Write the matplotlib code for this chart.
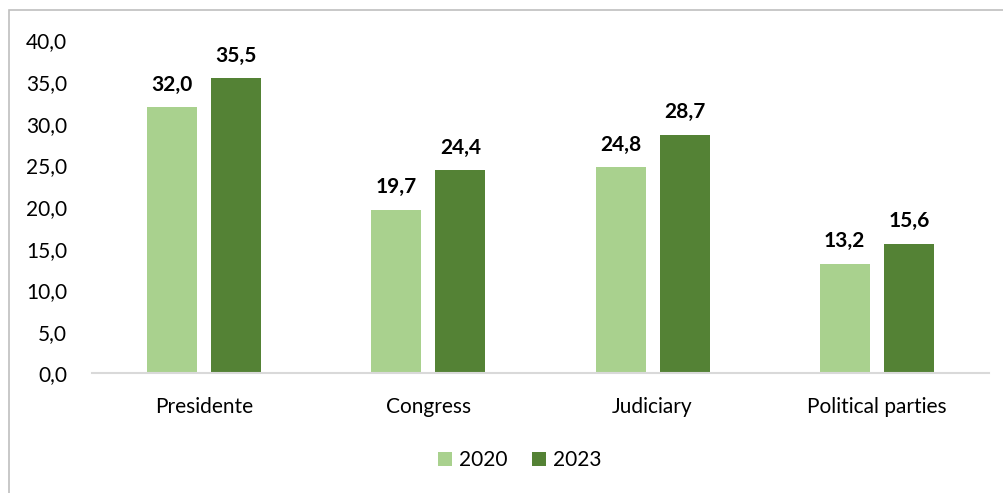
import matplotlib.pyplot as plt
import numpy as np
from matplotlib.patches import Rectangle

categories = ["Presidente", "Congress", "Judiciary", "Political parties"]
years = ["2020", "2023"]
values_2020 = [32.0, 19.7, 24.8, 13.2]
values_2023 = [35.5, 24.4, 28.7, 15.6]
yticks = [0, 5, 10, 15, 20, 25, 30, 35, 40]

colors = ["#A9D18E", "#548235"]

plt.rcParams["font.family"] = ["Lato", "DejaVu Sans"]

fig = plt.figure(figsize=(10.04, 4.93), dpi=100)
ax = fig.add_axes([0.0916, 0.2424, 0.8934, 0.6754])

# thin frame along the top and left edges
fig.patches.append(Rectangle((9 / 1004, -0.1), 1.2, (493 - 9) / 493 + 0.1 - 0.002,
                             transform=fig.transFigure, fill=False,
                             edgecolor="#BFBFBF", linewidth=1.2))

x = np.arange(len(categories))
width = 0.223
offset = 0.143

for vals, year, color, sign in [(values_2020, years[0], colors[0], -1),
                                (values_2023, years[1], colors[1], 1)]:
    bars = ax.bar(x + sign * offset, vals, width, color=color, label=year)
    for b, v in zip(bars, vals):
        ax.annotate(f"{v:.1f}".replace(".", ","),
                    (b.get_x() + b.get_width() / 2, v),
                    xytext=(0, 9), textcoords="offset points",
                    ha="center", va="bottom", fontsize=15, fontweight="bold",
                    color="#000000")

ax.set_xlim(-0.5, len(categories) - 0.5)
ax.set_ylim(0, 40)
ax.set_yticks(yticks)
ax.set_yticklabels([f"{t:.1f}".replace(".", ",") for t in yticks], fontsize=15)
ax.set_xticks(x)
ax.set_xticklabels(categories, fontsize=15)
ax.tick_params(axis="both", length=0, colors="#000000")
ax.tick_params(axis="y", pad=18)
ax.tick_params(axis="x", pad=17)

for side in ["top", "right", "left"]:
    ax.spines[side].set_visible(False)
ax.spines["bottom"].set_color("#D9D9D9")
ax.spines["bottom"].set_linewidth(1.5)

ax.legend(loc="center", bbox_to_anchor=(0.477, -0.26), ncol=2, frameon=False,
          fontsize=15, handlelength=0.65, handleheight=0.65, handletextpad=0.35,
          columnspacing=1.2)

fig.savefig("out.png", dpi=100)
